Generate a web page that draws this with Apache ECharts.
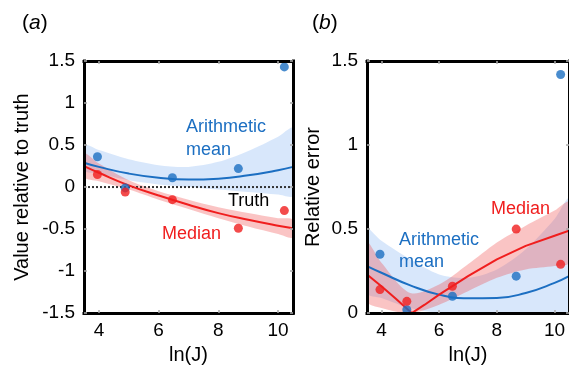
<!DOCTYPE html>
<html><head><meta charset="utf-8">
<script src="https://cdn.jsdelivr.net/npm/echarts@6/dist/echarts.min.js"></script>
<style>html,body{margin:0;padding:0;background:#fff}#c{width:569px;height:370px}</style>
</head><body><div id="c"></div>
<script>
// ---------- data ----------
const xTicks = [4, 6, 8, 10];
const lnJ = [3.95, 4.88, 6.46, 8.67, 10.21];

// panel (a): value relative to truth
const meanA   = [0.36, -0.01, 0.11, 0.22, 1.43];
const medianA = [0.15, -0.06, -0.15, -0.49, -0.28];
const fitX = [3.5, 4, 5, 6, 7, 8, 9, 10, 10.5];
const meanFitA   = [0.29, 0.24, 0.16, 0.11, 0.09, 0.10, 0.14, 0.20, 0.24];
const meanUpA    = [0.50, 0.44, 0.33, 0.26, 0.24, 0.30, 0.43, 0.60, 0.70];
const meanLoA    = [0.20, 0.16, 0.08, 0.03, 0.00, -0.03, -0.06, -0.09, -0.10];
const medianFitA = [0.25, 0.17, 0.02, -0.10, -0.21, -0.31, -0.39, -0.46, -0.49];
const medianUpA  = [0.40, 0.28, 0.08, -0.05, -0.15, -0.24, -0.31, -0.37, -0.39];
const medianLoA  = [0.12, 0.07, -0.03, -0.15, -0.26, -0.37, -0.47, -0.56, -0.60];
const truthX = [3.5, 10.5];
const truthY = [0, 0];

// panel (b): relative error
const meanB   = [0.35, 0.02, 0.10, 0.22, 1.42];
const medianB = [0.14, 0.07, 0.16, 0.50, 0.29];
const meanFitB = [0.28, 0.24, 0.165, 0.11, 0.088, 0.09, 0.12, 0.18, 0.22];
const meanUpB  = [0.50, 0.43, 0.32, 0.23, 0.21, 0.26, 0.38, 0.56, 0.68];
const meanLoB  = [0.12, 0.09, 0.03, 0.00, 0.00, 0.00, 0.00, 0.00, 0.00];
const medianFitBX = [3.5, 4, 4.5, 5.05, 5.5, 6, 7, 8, 9, 10, 10.5];
const medianFitB  = [0.23, 0.16, 0.085, 0.00, 0.05, 0.11, 0.22, 0.32, 0.40, 0.46, 0.49];
const medianUpB = [0.42, 0.30, 0.12, 0.17, 0.29, 0.42, 0.52, 0.61, 0.66];
const medianLoB = [0.07, 0.03, 0.00, 0.05, 0.13, 0.21, 0.26, 0.28, 0.30];

// ---------- style ----------
const FONT = '"Liberation Sans", Arial, Helvetica, sans-serif';
const BLUE = '#1c6fc2';
const RED = '#f01e1e';
const BAND_BLUE = 'rgba(110,165,240,0.27)';
const BAND_RED = 'rgba(240,60,60,0.30)';

const zip = (xs, ys) => xs.map((x, i) => [x, ys[i]]);

const chart = echarts.init(document.getElementById('c'), null, {renderer: 'canvas'});

const frameLine = {show: true, onZero: false, lineStyle: {color: '#000', width: 3, cap: 'square'}};
const tickStyle = {show: true, inside: true, length: 3, lineStyle: {color: '#aaa', width: 1.5}};

function xAxes(gi) {
  const base = {gridIndex: gi, type: 'value', min: 3.5, max: 10.5, z: 5,
    axisLine: frameLine, splitLine: {show: false},
    axisTick: Object.assign({customValues: xTicks}, tickStyle)};
  return [
    Object.assign({}, base, {position: 'bottom',
      name: 'ln(J)', nameLocation: 'middle', nameGap: 31,
      nameTextStyle: {fontFamily: FONT, fontSize: 20, color: '#000'},
      axisLabel: {customValues: xTicks, fontFamily: FONT, fontSize: 19, color: '#000', margin: 8}}),
    Object.assign({}, base, {position: 'top', axisLabel: {show: false}})
  ];
}
function yAxes(gi, min, max, name, gap) {
  const base = {gridIndex: gi, type: 'value', min: min, max: max, interval: 0.5, z: 5,
    axisLine: frameLine, splitLine: {show: false}, axisTick: tickStyle};
  return [
    Object.assign({}, base, {position: 'left',
      name: name, nameLocation: 'middle', nameGap: gap,
      nameTextStyle: {fontFamily: FONT, fontSize: 20, color: '#000'},
      axisLabel: {fontFamily: FONT, fontSize: 19, color: '#000', margin: 9}}),
    Object.assign({}, base, {position: 'right', axisLabel: {show: false}})
  ];
}

function band(xi, yi, xs, up, lo, color) {
  return {
    type: 'custom', xAxisIndex: xi, yAxisIndex: yi, silent: true, z: 1,
    data: [[xs[0], up[0]]],
    renderItem: function (params, api) {
      const pts = [];
      for (let i = 0; i < xs.length; i++) pts.push(api.coord([xs[i], up[i]]));
      for (let i = xs.length - 1; i >= 0; i--) pts.push(api.coord([xs[i], lo[i]]));
      const cs = params.coordSys;
      return {
        type: 'polygon',
        shape: {points: pts, smooth: 0.3},
        style: {fill: color},
        clipPath: {type: 'rect', shape: {x: cs.x, y: cs.y, width: cs.width, height: cs.height}}
      };
    }
  };
}
function fit(xi, yi, xs, ys, color, smooth) {
  return {type: 'line', xAxisIndex: xi, yAxisIndex: yi, data: zip(xs, ys), smooth: smooth,
    symbol: 'none', silent: true, z: 2, lineStyle: {color: color, width: 2}};
}
function pts(xi, yi, ys, color, z) {
  return {type: 'scatter', xAxisIndex: xi, yAxisIndex: yi, data: zip(lnJ, ys), symbolSize: 9,
    silent: true, z: z, itemStyle: {color: color}};
}
function txt(x, y, s, color, size) {
  return {type: 'text', x: x, y: y, z: 20,
    style: {text: s, fill: color, fontFamily: FONT, fontSize: size || 18, align: 'left', verticalAlign: 'middle'}};
}
function panelLabel(x, y, letter) {
  return {type: 'text', x: x, y: y, z: 20,
    style: {text: '{n|(}{i|' + letter + '}{n|)}', fill: '#000', verticalAlign: 'middle',
      rich: {n: {fontFamily: FONT, fontSize: 21, fill: '#000'},
             i: {fontFamily: FONT, fontSize: 21, fontStyle: 'italic', fill: '#000'}}}};
}

const option = {
  backgroundColor: '#fff',
  animation: false,
  grid: [
    {left: 84, top: 61, width: 209, height: 256.5},
    {left: 367, top: 61, width: 207, height: 255.5}
  ],
  xAxis: xAxes(0).concat(xAxes(1)),
  yAxis: yAxes(0, -1.5, 1.5, 'Value relative to truth', 52).concat(yAxes(1, 0, 1.5, 'Relative error', 44)),
  series: [
    // panel a
    band(0, 0, fitX, meanUpA, meanLoA, BAND_BLUE),
    band(0, 0, fitX, medianUpA, medianLoA, BAND_RED),
    {type: 'line', xAxisIndex: 0, yAxisIndex: 0, data: zip(truthX, truthY), symbol: 'none', silent: true, z: 2,
      lineStyle: {color: '#333', width: 2, type: [2, 2]}},
    fit(0, 0, fitX, meanFitA, BLUE, true),
    fit(0, 0, fitX, medianFitA, RED, true),
    pts(0, 0, meanA, BLUE, 3),
    pts(0, 0, medianA, RED, 4),
    // panel b
    band(2, 2, fitX, meanUpB, meanLoB, BAND_BLUE),
    band(2, 2, fitX, medianUpB, medianLoB, BAND_RED),
    fit(2, 2, fitX, meanFitB, BLUE, true),
    fit(2, 2, medianFitBX, medianFitB, RED, false),
    pts(2, 2, meanB, BLUE, 3),
    pts(2, 2, medianB, RED, 4)
  ],
  graphic: [
    panelLabel(22, 23, 'a'),
    panelLabel(312, 23, 'b'),
    txt(186, 127, 'Arithmetic', BLUE),
    txt(186, 150, 'mean', BLUE),
    txt(228, 201, 'Truth', '#000'),
    txt(162, 234.5, 'Median', RED),
    txt(491, 209, 'Median', RED),
    txt(399, 240, 'Arithmetic', BLUE),
    txt(399, 262, 'mean', BLUE)
  ]
};
chart.setOption(option);
</script></body></html>
